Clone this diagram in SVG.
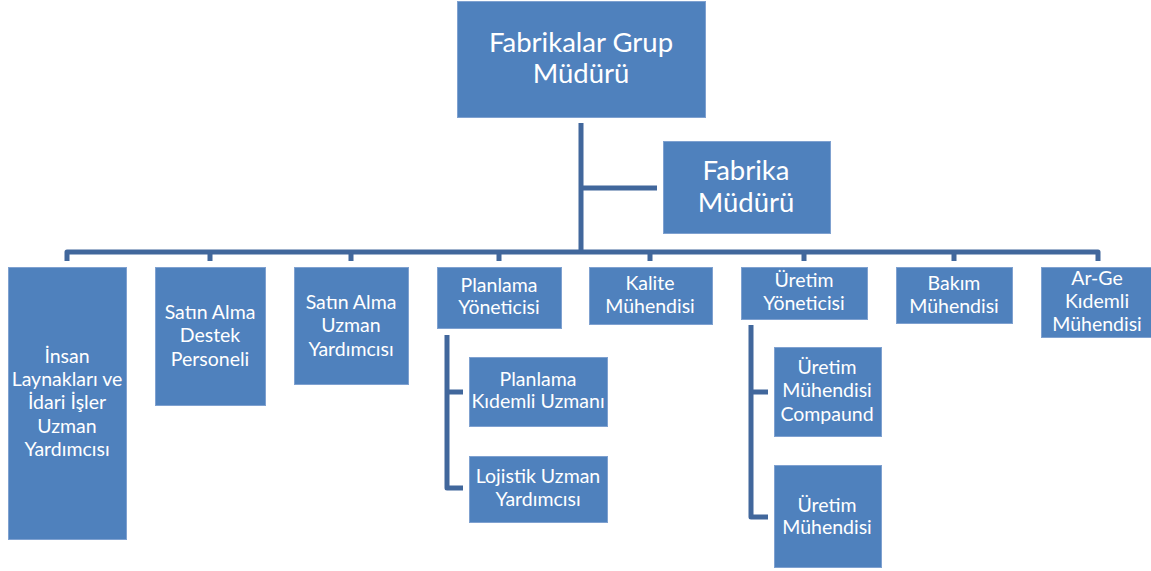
<svg xmlns="http://www.w3.org/2000/svg" width="1151" height="571" viewBox="0 0 1151 571">
<style>
.box{fill:#4F81BD;stroke:#7FA1D0;stroke-width:1}
.t{font-family:Lato,"Open Sans",sans-serif;font-size:19.5px;fill:#FFFFFF;text-anchor:middle}
.big{font-size:27.5px}
.c{fill:none;stroke:#41679C;stroke-width:5;stroke-linejoin:round}
</style>
<rect width="1151" height="571" fill="#FFFFFF"/>
<g id="connectors">
<path class="c" d="M581,123 V252 M581,188 H657"/>
<path class="c" d="M67,261 V252 H1098 V261"/>
<path class="c" d="M210,252 V261 M351,252 V261 M499,252 V261 M650,252 V261 M804,252 V261 M954,252 V261"/>
<path class="c" d="M463,392 H447 M447,335 V488 H463"/>
<path class="c" d="M768,392 H751 M751,325 V517 H768"/>
</g>
<g id="n-grup"><rect class="box" x="457.5" y="1.5" width="248" height="116"/><text class="t big" x="581" y="52">Fabrikalar Grup</text><text class="t big" x="581" y="83">Müdürü</text></g>
<g id="n-fabrika"><rect class="box" x="663.5" y="141.5" width="167" height="92"/><text class="t big" x="746" y="180">Fabrika</text><text class="t big" x="746" y="212">Müdürü</text></g>
<g id="n-insan"><rect class="box" x="8.5" y="267.5" width="118" height="272"/><text class="t" x="67" y="363">İnsan</text><text class="t" x="67" y="386">Laynakları ve</text><text class="t" x="67" y="409">İdari İşler</text><text class="t" x="67" y="433">Uzman</text><text class="t" x="67" y="456">Yardımcısı</text></g>
<g id="n-satin-destek"><rect class="box" x="155.5" y="267.5" width="110" height="138"/><text class="t" x="210" y="319">Satın Alma</text><text class="t" x="210" y="342">Destek</text><text class="t" x="210" y="366">Personeli</text></g>
<g id="n-satin-uzman"><rect class="box" x="294.5" y="267.5" width="114" height="117"/><text class="t" x="351" y="309">Satın Alma</text><text class="t" x="351" y="332">Uzman</text><text class="t" x="351" y="356">Yardımcısı</text></g>
<g id="n-planlama"><rect class="box" x="437.5" y="267.5" width="124" height="61"/><text class="t" x="499" y="292">Planlama</text><text class="t" x="499" y="314">Yöneticisi</text></g>
<g id="n-kalite"><rect class="box" x="589.5" y="267.5" width="123" height="57"/><text class="t" x="650" y="290">Kalite</text><text class="t" x="650" y="313">Mühendisi</text></g>
<g id="n-uretim"><rect class="box" x="741.5" y="267.5" width="126" height="52"/><text class="t" x="804" y="287">Üretim</text><text class="t" x="804" y="310">Yöneticisi</text></g>
<g id="n-bakim"><rect class="box" x="896.5" y="267.5" width="116" height="56"/><text class="t" x="954" y="290">Bakım</text><text class="t" x="954" y="313">Mühendisi</text></g>
<g id="n-arge"><rect class="box" x="1041.5" y="267.5" width="110" height="70"/><text class="t" x="1097" y="285">Ar-Ge</text><text class="t" x="1097" y="308">Kıdemli</text><text class="t" x="1097" y="331">Mühendisi</text></g>
<g id="n-planlama-kidemli"><rect class="box" x="469.5" y="357.5" width="138" height="69"/><text class="t" x="538" y="386">Planlama</text><text class="t" x="538" y="408">Kıdemli Uzmanı</text></g>
<g id="n-lojistik"><rect class="box" x="469.5" y="456.5" width="138" height="66"/><text class="t" x="538" y="483">Lojistik Uzman</text><text class="t" x="538" y="506">Yardımcısı</text></g>
<g id="n-uretim-compaund"><rect class="box" x="774.5" y="347.5" width="107" height="89"/><text class="t" x="827" y="374">Üretim</text><text class="t" x="827" y="397">Mühendisi</text><text class="t" x="827" y="421">Compaund</text></g>
<g id="n-uretim-muh"><rect class="box" x="774.5" y="465.5" width="107" height="102"/><text class="t" x="827" y="512">Üretim</text><text class="t" x="827" y="534">Mühendisi</text></g>
</svg>
